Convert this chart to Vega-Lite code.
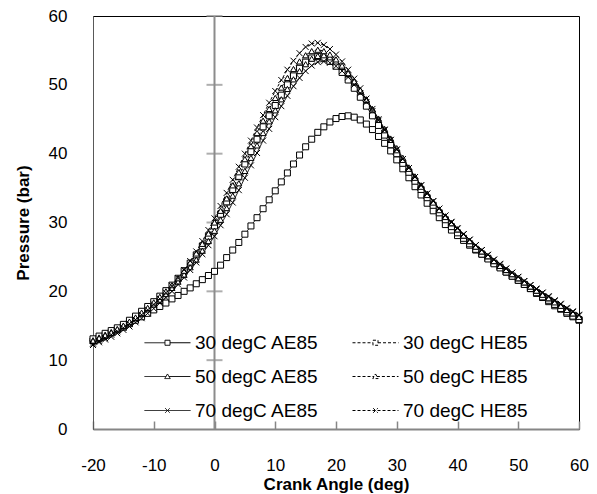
{
"$schema": "https://vega.github.io/schema/vega-lite/v6.json",
"width": 486, "height": 413,
"autosize": {"type": "none"},
"padding": {"left": 93, "top": 16, "right": 18, "bottom": 65},
"background": "white",
"config": {"view": {"stroke": "black", "strokeWidth": 1}, "font": "Liberation Sans"},
"data": {"values": [
{"s":"30 degC AE85","a":-20,"p":12.8},{"s":"30 degC AE85","a":-19,"p":13.2},{"s":"30 degC AE85","a":-18,"p":13.6},{"s":"30 degC AE85","a":-17,"p":14.0},{"s":"30 degC AE85","a":-16,"p":14.4},{"s":"30 degC AE85","a":-15,"p":14.8},{"s":"30 degC AE85","a":-14,"p":15.3},{"s":"30 degC AE85","a":-13,"p":15.8},{"s":"30 degC AE85","a":-12,"p":16.3},{"s":"30 degC AE85","a":-11,"p":16.8},
{"s":"30 degC AE85","a":-10,"p":17.3},{"s":"30 degC AE85","a":-9,"p":17.8},{"s":"30 degC AE85","a":-8,"p":18.3},{"s":"30 degC AE85","a":-7,"p":18.9},{"s":"30 degC AE85","a":-6,"p":19.4},{"s":"30 degC AE85","a":-5,"p":20.0},{"s":"30 degC AE85","a":-4,"p":20.5},{"s":"30 degC AE85","a":-3,"p":21.1},{"s":"30 degC AE85","a":-2,"p":21.7},{"s":"30 degC AE85","a":-1,"p":22.3},
{"s":"30 degC AE85","a":0,"p":22.9},{"s":"30 degC AE85","a":1,"p":23.8},{"s":"30 degC AE85","a":2,"p":24.9},{"s":"30 degC AE85","a":3,"p":26.0},{"s":"30 degC AE85","a":4,"p":27.1},{"s":"30 degC AE85","a":5,"p":28.3},{"s":"30 degC AE85","a":6,"p":29.5},{"s":"30 degC AE85","a":7,"p":30.7},{"s":"30 degC AE85","a":8,"p":32.0},{"s":"30 degC AE85","a":9,"p":33.3},
{"s":"30 degC AE85","a":10,"p":34.6},{"s":"30 degC AE85","a":11,"p":35.9},{"s":"30 degC AE85","a":12,"p":37.2},{"s":"30 degC AE85","a":13,"p":38.5},{"s":"30 degC AE85","a":14,"p":39.8},{"s":"30 degC AE85","a":15,"p":41.0},{"s":"30 degC AE85","a":16,"p":42.1},{"s":"30 degC AE85","a":17,"p":43.1},{"s":"30 degC AE85","a":18,"p":43.9},{"s":"30 degC AE85","a":19,"p":44.6},
{"s":"30 degC AE85","a":20,"p":45.1},{"s":"30 degC AE85","a":21,"p":45.4},{"s":"30 degC AE85","a":22,"p":45.5},{"s":"30 degC AE85","a":23,"p":45.3},{"s":"30 degC AE85","a":24,"p":44.9},{"s":"30 degC AE85","a":25,"p":44.3},{"s":"30 degC AE85","a":26,"p":43.5},{"s":"30 degC AE85","a":27,"p":42.5},{"s":"30 degC AE85","a":28,"p":41.5},{"s":"30 degC AE85","a":29,"p":40.4},
{"s":"30 degC AE85","a":30,"p":39.1},{"s":"30 degC AE85","a":31,"p":37.8},{"s":"30 degC AE85","a":32,"p":36.5},{"s":"30 degC AE85","a":33,"p":35.2},{"s":"30 degC AE85","a":34,"p":34.0},{"s":"30 degC AE85","a":35,"p":32.8},{"s":"30 degC AE85","a":36,"p":31.7},{"s":"30 degC AE85","a":37,"p":30.7},{"s":"30 degC AE85","a":38,"p":29.7},{"s":"30 degC AE85","a":39,"p":28.9},
{"s":"30 degC AE85","a":40,"p":28.1},{"s":"30 degC AE85","a":41,"p":27.4},{"s":"30 degC AE85","a":42,"p":26.7},{"s":"30 degC AE85","a":43,"p":26.0},{"s":"30 degC AE85","a":44,"p":25.4},{"s":"30 degC AE85","a":45,"p":24.8},{"s":"30 degC AE85","a":46,"p":24.1},{"s":"30 degC AE85","a":47,"p":23.5},{"s":"30 degC AE85","a":48,"p":22.8},{"s":"30 degC AE85","a":49,"p":22.2},
{"s":"30 degC AE85","a":50,"p":21.6},{"s":"30 degC AE85","a":51,"p":21.0},{"s":"30 degC AE85","a":52,"p":20.4},{"s":"30 degC AE85","a":53,"p":19.7},{"s":"30 degC AE85","a":54,"p":19.1},{"s":"30 degC AE85","a":55,"p":18.5},{"s":"30 degC AE85","a":56,"p":17.9},{"s":"30 degC AE85","a":57,"p":17.4},{"s":"30 degC AE85","a":58,"p":16.8},{"s":"30 degC AE85","a":59,"p":16.3},{"s":"30 degC AE85","a":60,"p":15.8},

{"s":"30 degC HE85","a":-20,"p":13.1},{"s":"30 degC HE85","a":-19,"p":13.5},{"s":"30 degC HE85","a":-18,"p":13.9},{"s":"30 degC HE85","a":-17,"p":14.3},{"s":"30 degC HE85","a":-16,"p":14.7},{"s":"30 degC HE85","a":-15,"p":15.2},{"s":"30 degC HE85","a":-14,"p":15.8},{"s":"30 degC HE85","a":-13,"p":16.4},{"s":"30 degC HE85","a":-12,"p":17.1},{"s":"30 degC HE85","a":-11,"p":17.8},
{"s":"30 degC HE85","a":-10,"p":18.5},{"s":"30 degC HE85","a":-9,"p":19.3},{"s":"30 degC HE85","a":-8,"p":20.1},{"s":"30 degC HE85","a":-7,"p":20.9},{"s":"30 degC HE85","a":-6,"p":21.9},{"s":"30 degC HE85","a":-5,"p":23.0},{"s":"30 degC HE85","a":-4,"p":24.1},{"s":"30 degC HE85","a":-3,"p":25.3},{"s":"30 degC HE85","a":-2,"p":26.6},{"s":"30 degC HE85","a":-1,"p":28.0},
{"s":"30 degC HE85","a":0,"p":29.5},{"s":"30 degC HE85","a":1,"p":31.2},{"s":"30 degC HE85","a":2,"p":33.0},{"s":"30 degC HE85","a":3,"p":34.8},{"s":"30 degC HE85","a":4,"p":36.7},{"s":"30 degC HE85","a":5,"p":38.5},{"s":"30 degC HE85","a":6,"p":40.3},{"s":"30 degC HE85","a":7,"p":42.1},{"s":"30 degC HE85","a":8,"p":43.9},{"s":"30 degC HE85","a":9,"p":45.5},
{"s":"30 degC HE85","a":10,"p":47.0},{"s":"30 degC HE85","a":11,"p":48.5},{"s":"30 degC HE85","a":12,"p":50.0},{"s":"30 degC HE85","a":13,"p":51.3},{"s":"30 degC HE85","a":14,"p":52.4},{"s":"30 degC HE85","a":15,"p":53.3},{"s":"30 degC HE85","a":16,"p":53.9},{"s":"30 degC HE85","a":17,"p":54.1},{"s":"30 degC HE85","a":18,"p":53.9},{"s":"30 degC HE85","a":19,"p":53.4},
{"s":"30 degC HE85","a":20,"p":52.7},{"s":"30 degC HE85","a":21,"p":51.8},{"s":"30 degC HE85","a":22,"p":50.7},{"s":"30 degC HE85","a":23,"p":49.5},{"s":"30 degC HE85","a":24,"p":48.2},{"s":"30 degC HE85","a":25,"p":46.9},{"s":"30 degC HE85","a":26,"p":45.5},{"s":"30 degC HE85","a":27,"p":44.1},{"s":"30 degC HE85","a":28,"p":42.7},{"s":"30 degC HE85","a":29,"p":41.3},
{"s":"30 degC HE85","a":30,"p":40.0},{"s":"30 degC HE85","a":31,"p":38.6},{"s":"30 degC HE85","a":32,"p":37.3},{"s":"30 degC HE85","a":33,"p":36.0},{"s":"30 degC HE85","a":34,"p":34.8},{"s":"30 degC HE85","a":35,"p":33.6},{"s":"30 degC HE85","a":36,"p":32.5},{"s":"30 degC HE85","a":37,"p":31.4},{"s":"30 degC HE85","a":38,"p":30.4},{"s":"30 degC HE85","a":39,"p":29.4},
{"s":"30 degC HE85","a":40,"p":28.5},{"s":"30 degC HE85","a":41,"p":27.7},{"s":"30 degC HE85","a":42,"p":26.9},{"s":"30 degC HE85","a":43,"p":26.1},{"s":"30 degC HE85","a":44,"p":25.4},{"s":"30 degC HE85","a":45,"p":24.7},{"s":"30 degC HE85","a":46,"p":24.0},{"s":"30 degC HE85","a":47,"p":23.4},{"s":"30 degC HE85","a":48,"p":22.8},{"s":"30 degC HE85","a":49,"p":22.2},
{"s":"30 degC HE85","a":50,"p":21.6},{"s":"30 degC HE85","a":51,"p":21.0},{"s":"30 degC HE85","a":52,"p":20.4},{"s":"30 degC HE85","a":53,"p":19.8},{"s":"30 degC HE85","a":54,"p":19.2},{"s":"30 degC HE85","a":55,"p":18.7},{"s":"30 degC HE85","a":56,"p":18.1},{"s":"30 degC HE85","a":57,"p":17.5},{"s":"30 degC HE85","a":58,"p":17.0},{"s":"30 degC HE85","a":59,"p":16.4},{"s":"30 degC HE85","a":60,"p":15.9},

{"s":"50 degC AE85","a":-20,"p":12.9},{"s":"50 degC AE85","a":-19,"p":13.3},{"s":"50 degC AE85","a":-18,"p":13.7},{"s":"50 degC AE85","a":-17,"p":14.1},{"s":"50 degC AE85","a":-16,"p":14.5},{"s":"50 degC AE85","a":-15,"p":15.0},{"s":"50 degC AE85","a":-14,"p":15.5},{"s":"50 degC AE85","a":-13,"p":16.1},{"s":"50 degC AE85","a":-12,"p":16.7},{"s":"50 degC AE85","a":-11,"p":17.4},
{"s":"50 degC AE85","a":-10,"p":18.1},{"s":"50 degC AE85","a":-9,"p":18.8},{"s":"50 degC AE85","a":-8,"p":19.6},{"s":"50 degC AE85","a":-7,"p":20.5},{"s":"50 degC AE85","a":-6,"p":21.4},{"s":"50 degC AE85","a":-5,"p":22.4},{"s":"50 degC AE85","a":-4,"p":23.5},{"s":"50 degC AE85","a":-3,"p":24.6},{"s":"50 degC AE85","a":-2,"p":25.9},{"s":"50 degC AE85","a":-1,"p":27.3},
{"s":"50 degC AE85","a":0,"p":28.8},{"s":"50 degC AE85","a":1,"p":30.4},{"s":"50 degC AE85","a":2,"p":32.1},{"s":"50 degC AE85","a":3,"p":33.9},{"s":"50 degC AE85","a":4,"p":35.7},{"s":"50 degC AE85","a":5,"p":37.5},{"s":"50 degC AE85","a":6,"p":39.4},{"s":"50 degC AE85","a":7,"p":41.2},{"s":"50 degC AE85","a":8,"p":43.0},{"s":"50 degC AE85","a":9,"p":44.7},
{"s":"50 degC AE85","a":10,"p":46.3},{"s":"50 degC AE85","a":11,"p":47.9},{"s":"50 degC AE85","a":12,"p":49.4},{"s":"50 degC AE85","a":13,"p":50.8},{"s":"50 degC AE85","a":14,"p":52.0},{"s":"50 degC AE85","a":15,"p":53.0},{"s":"50 degC AE85","a":16,"p":53.8},{"s":"50 degC AE85","a":17,"p":54.2},{"s":"50 degC AE85","a":18,"p":54.3},{"s":"50 degC AE85","a":19,"p":54.0},
{"s":"50 degC AE85","a":20,"p":53.4},{"s":"50 degC AE85","a":21,"p":52.6},{"s":"50 degC AE85","a":22,"p":51.6},{"s":"50 degC AE85","a":23,"p":50.5},{"s":"50 degC AE85","a":24,"p":49.2},{"s":"50 degC AE85","a":25,"p":47.9},{"s":"50 degC AE85","a":26,"p":46.5},{"s":"50 degC AE85","a":27,"p":45.1},{"s":"50 degC AE85","a":28,"p":43.6},{"s":"50 degC AE85","a":29,"p":42.2},
{"s":"50 degC AE85","a":30,"p":40.8},{"s":"50 degC AE85","a":31,"p":39.4},{"s":"50 degC AE85","a":32,"p":38.0},{"s":"50 degC AE85","a":33,"p":36.7},{"s":"50 degC AE85","a":34,"p":35.4},{"s":"50 degC AE85","a":35,"p":34.2},{"s":"50 degC AE85","a":36,"p":33.0},{"s":"50 degC AE85","a":37,"p":31.9},{"s":"50 degC AE85","a":38,"p":30.9},{"s":"50 degC AE85","a":39,"p":29.9},
{"s":"50 degC AE85","a":40,"p":29.0},{"s":"50 degC AE85","a":41,"p":28.1},{"s":"50 degC AE85","a":42,"p":27.3},{"s":"50 degC AE85","a":43,"p":26.5},{"s":"50 degC AE85","a":44,"p":25.8},{"s":"50 degC AE85","a":45,"p":25.1},{"s":"50 degC AE85","a":46,"p":24.4},{"s":"50 degC AE85","a":47,"p":23.7},{"s":"50 degC AE85","a":48,"p":23.1},{"s":"50 degC AE85","a":49,"p":22.5},
{"s":"50 degC AE85","a":50,"p":21.9},{"s":"50 degC AE85","a":51,"p":21.3},{"s":"50 degC AE85","a":52,"p":20.7},{"s":"50 degC AE85","a":53,"p":20.1},{"s":"50 degC AE85","a":54,"p":19.6},{"s":"50 degC AE85","a":55,"p":19.0},{"s":"50 degC AE85","a":56,"p":18.5},{"s":"50 degC AE85","a":57,"p":17.9},{"s":"50 degC AE85","a":58,"p":17.4},{"s":"50 degC AE85","a":59,"p":16.8},{"s":"50 degC AE85","a":60,"p":16.3},

{"s":"50 degC HE85","a":-20,"p":12.8},{"s":"50 degC HE85","a":-19,"p":13.2},{"s":"50 degC HE85","a":-18,"p":13.6},{"s":"50 degC HE85","a":-17,"p":14.0},{"s":"50 degC HE85","a":-16,"p":14.5},{"s":"50 degC HE85","a":-15,"p":15.0},{"s":"50 degC HE85","a":-14,"p":15.6},{"s":"50 degC HE85","a":-13,"p":16.2},{"s":"50 degC HE85","a":-12,"p":16.9},{"s":"50 degC HE85","a":-11,"p":17.6},
{"s":"50 degC HE85","a":-10,"p":18.4},{"s":"50 degC HE85","a":-9,"p":19.2},{"s":"50 degC HE85","a":-8,"p":20.0},{"s":"50 degC HE85","a":-7,"p":20.9},{"s":"50 degC HE85","a":-6,"p":21.9},{"s":"50 degC HE85","a":-5,"p":23.0},{"s":"50 degC HE85","a":-4,"p":24.2},{"s":"50 degC HE85","a":-3,"p":25.5},{"s":"50 degC HE85","a":-2,"p":26.9},{"s":"50 degC HE85","a":-1,"p":28.4},
{"s":"50 degC HE85","a":0,"p":30.0},{"s":"50 degC HE85","a":1,"p":31.7},{"s":"50 degC HE85","a":2,"p":33.5},{"s":"50 degC HE85","a":3,"p":35.4},{"s":"50 degC HE85","a":4,"p":37.3},{"s":"50 degC HE85","a":5,"p":39.2},{"s":"50 degC HE85","a":6,"p":41.1},{"s":"50 degC HE85","a":7,"p":43.0},{"s":"50 degC HE85","a":8,"p":44.8},{"s":"50 degC HE85","a":9,"p":46.5},
{"s":"50 degC HE85","a":10,"p":48.1},{"s":"50 degC HE85","a":11,"p":49.6},{"s":"50 degC HE85","a":12,"p":51.0},{"s":"50 degC HE85","a":13,"p":52.3},{"s":"50 degC HE85","a":14,"p":53.4},{"s":"50 degC HE85","a":15,"p":54.3},{"s":"50 degC HE85","a":16,"p":54.9},{"s":"50 degC HE85","a":17,"p":55.1},{"s":"50 degC HE85","a":18,"p":54.9},{"s":"50 degC HE85","a":19,"p":54.4},
{"s":"50 degC HE85","a":20,"p":53.7},{"s":"50 degC HE85","a":21,"p":52.8},{"s":"50 degC HE85","a":22,"p":51.7},{"s":"50 degC HE85","a":23,"p":50.5},{"s":"50 degC HE85","a":24,"p":49.2},{"s":"50 degC HE85","a":25,"p":47.8},{"s":"50 degC HE85","a":26,"p":46.4},{"s":"50 degC HE85","a":27,"p":44.9},{"s":"50 degC HE85","a":28,"p":43.4},{"s":"50 degC HE85","a":29,"p":42.0},
{"s":"50 degC HE85","a":30,"p":40.5},{"s":"50 degC HE85","a":31,"p":39.1},{"s":"50 degC HE85","a":32,"p":37.8},{"s":"50 degC HE85","a":33,"p":36.5},{"s":"50 degC HE85","a":34,"p":35.2},{"s":"50 degC HE85","a":35,"p":34.0},{"s":"50 degC HE85","a":36,"p":32.9},{"s":"50 degC HE85","a":37,"p":31.8},{"s":"50 degC HE85","a":38,"p":30.8},{"s":"50 degC HE85","a":39,"p":29.9},
{"s":"50 degC HE85","a":40,"p":29.0},{"s":"50 degC HE85","a":41,"p":28.1},{"s":"50 degC HE85","a":42,"p":27.3},{"s":"50 degC HE85","a":43,"p":26.5},{"s":"50 degC HE85","a":44,"p":25.8},{"s":"50 degC HE85","a":45,"p":25.1},{"s":"50 degC HE85","a":46,"p":24.4},{"s":"50 degC HE85","a":47,"p":23.7},{"s":"50 degC HE85","a":48,"p":23.1},{"s":"50 degC HE85","a":49,"p":22.5},
{"s":"50 degC HE85","a":50,"p":21.9},{"s":"50 degC HE85","a":51,"p":21.3},{"s":"50 degC HE85","a":52,"p":20.7},{"s":"50 degC HE85","a":53,"p":20.1},{"s":"50 degC HE85","a":54,"p":19.5},{"s":"50 degC HE85","a":55,"p":19.0},{"s":"50 degC HE85","a":56,"p":18.4},{"s":"50 degC HE85","a":57,"p":17.9},{"s":"50 degC HE85","a":58,"p":17.3},{"s":"50 degC HE85","a":59,"p":16.8},{"s":"50 degC HE85","a":60,"p":16.3},

{"s":"70 degC AE85","a":-20,"p":12.2},{"s":"70 degC AE85","a":-19,"p":12.6},{"s":"70 degC AE85","a":-18,"p":13.0},{"s":"70 degC AE85","a":-17,"p":13.4},{"s":"70 degC AE85","a":-16,"p":13.9},{"s":"70 degC AE85","a":-15,"p":14.4},{"s":"70 degC AE85","a":-14,"p":14.9},{"s":"70 degC AE85","a":-13,"p":15.5},{"s":"70 degC AE85","a":-12,"p":16.1},{"s":"70 degC AE85","a":-11,"p":16.8},
{"s":"70 degC AE85","a":-10,"p":17.5},{"s":"70 degC AE85","a":-9,"p":18.3},{"s":"70 degC AE85","a":-8,"p":19.1},{"s":"70 degC AE85","a":-7,"p":20.0},{"s":"70 degC AE85","a":-6,"p":21.0},{"s":"70 degC AE85","a":-5,"p":22.0},{"s":"70 degC AE85","a":-4,"p":23.1},{"s":"70 degC AE85","a":-3,"p":24.2},{"s":"70 degC AE85","a":-2,"p":25.4},{"s":"70 degC AE85","a":-1,"p":26.7},
{"s":"70 degC AE85","a":0,"p":28.0},{"s":"70 degC AE85","a":1,"p":29.6},{"s":"70 degC AE85","a":2,"p":31.2},{"s":"70 degC AE85","a":3,"p":32.9},{"s":"70 degC AE85","a":4,"p":34.7},{"s":"70 degC AE85","a":5,"p":36.5},{"s":"70 degC AE85","a":6,"p":38.3},{"s":"70 degC AE85","a":7,"p":40.1},{"s":"70 degC AE85","a":8,"p":41.9},{"s":"70 degC AE85","a":9,"p":43.6},
{"s":"70 degC AE85","a":10,"p":45.3},{"s":"70 degC AE85","a":11,"p":46.9},{"s":"70 degC AE85","a":12,"p":48.4},{"s":"70 degC AE85","a":13,"p":49.8},{"s":"70 degC AE85","a":14,"p":51.0},{"s":"70 degC AE85","a":15,"p":52.0},{"s":"70 degC AE85","a":16,"p":52.8},{"s":"70 degC AE85","a":17,"p":53.3},{"s":"70 degC AE85","a":18,"p":53.4},{"s":"70 degC AE85","a":19,"p":53.2},
{"s":"70 degC AE85","a":20,"p":52.7},{"s":"70 degC AE85","a":21,"p":52.0},{"s":"70 degC AE85","a":22,"p":51.1},{"s":"70 degC AE85","a":23,"p":50.0},{"s":"70 degC AE85","a":24,"p":48.8},{"s":"70 degC AE85","a":25,"p":47.5},{"s":"70 degC AE85","a":26,"p":46.2},{"s":"70 degC AE85","a":27,"p":44.8},{"s":"70 degC AE85","a":28,"p":43.4},{"s":"70 degC AE85","a":29,"p":42.0},
{"s":"70 degC AE85","a":30,"p":40.6},{"s":"70 degC AE85","a":31,"p":39.2},{"s":"70 degC AE85","a":32,"p":37.9},{"s":"70 degC AE85","a":33,"p":36.6},{"s":"70 degC AE85","a":34,"p":35.4},{"s":"70 degC AE85","a":35,"p":34.2},{"s":"70 degC AE85","a":36,"p":33.1},{"s":"70 degC AE85","a":37,"p":32.0},{"s":"70 degC AE85","a":38,"p":31.0},{"s":"70 degC AE85","a":39,"p":30.0},
{"s":"70 degC AE85","a":40,"p":29.1},{"s":"70 degC AE85","a":41,"p":28.3},{"s":"70 degC AE85","a":42,"p":27.5},{"s":"70 degC AE85","a":43,"p":26.7},{"s":"70 degC AE85","a":44,"p":26.0},{"s":"70 degC AE85","a":45,"p":25.3},{"s":"70 degC AE85","a":46,"p":24.6},{"s":"70 degC AE85","a":47,"p":24.0},{"s":"70 degC AE85","a":48,"p":23.3},{"s":"70 degC AE85","a":49,"p":22.7},
{"s":"70 degC AE85","a":50,"p":22.1},{"s":"70 degC AE85","a":51,"p":21.5},{"s":"70 degC AE85","a":52,"p":20.9},{"s":"70 degC AE85","a":53,"p":20.4},{"s":"70 degC AE85","a":54,"p":19.8},{"s":"70 degC AE85","a":55,"p":19.3},{"s":"70 degC AE85","a":56,"p":18.7},{"s":"70 degC AE85","a":57,"p":18.2},{"s":"70 degC AE85","a":58,"p":17.6},{"s":"70 degC AE85","a":59,"p":17.1},{"s":"70 degC AE85","a":60,"p":16.6},

{"s":"70 degC HE85","a":-20,"p":12.4},{"s":"70 degC HE85","a":-19,"p":12.8},{"s":"70 degC HE85","a":-18,"p":13.2},{"s":"70 degC HE85","a":-17,"p":13.7},{"s":"70 degC HE85","a":-16,"p":14.2},{"s":"70 degC HE85","a":-15,"p":14.7},{"s":"70 degC HE85","a":-14,"p":15.3},{"s":"70 degC HE85","a":-13,"p":15.9},{"s":"70 degC HE85","a":-12,"p":16.6},{"s":"70 degC HE85","a":-11,"p":17.3},
{"s":"70 degC HE85","a":-10,"p":18.1},{"s":"70 degC HE85","a":-9,"p":18.9},{"s":"70 degC HE85","a":-8,"p":19.8},{"s":"70 degC HE85","a":-7,"p":20.8},{"s":"70 degC HE85","a":-6,"p":21.9},{"s":"70 degC HE85","a":-5,"p":23.1},{"s":"70 degC HE85","a":-4,"p":24.4},{"s":"70 degC HE85","a":-3,"p":25.8},{"s":"70 degC HE85","a":-2,"p":27.3},{"s":"70 degC HE85","a":-1,"p":28.9},
{"s":"70 degC HE85","a":0,"p":30.6},{"s":"70 degC HE85","a":1,"p":32.4},{"s":"70 degC HE85","a":2,"p":34.3},{"s":"70 degC HE85","a":3,"p":36.2},{"s":"70 degC HE85","a":4,"p":38.1},{"s":"70 degC HE85","a":5,"p":40.0},{"s":"70 degC HE85","a":6,"p":41.9},{"s":"70 degC HE85","a":7,"p":43.8},{"s":"70 degC HE85","a":8,"p":45.6},{"s":"70 degC HE85","a":9,"p":47.4},
{"s":"70 degC HE85","a":10,"p":49.1},{"s":"70 degC HE85","a":11,"p":50.7},{"s":"70 degC HE85","a":12,"p":52.2},{"s":"70 degC HE85","a":13,"p":53.5},{"s":"70 degC HE85","a":14,"p":54.6},{"s":"70 degC HE85","a":15,"p":55.5},{"s":"70 degC HE85","a":16,"p":56.0},{"s":"70 degC HE85","a":17,"p":56.1},{"s":"70 degC HE85","a":18,"p":55.8},{"s":"70 degC HE85","a":19,"p":55.2},
{"s":"70 degC HE85","a":20,"p":54.4},{"s":"70 degC HE85","a":21,"p":53.4},{"s":"70 degC HE85","a":22,"p":52.2},{"s":"70 degC HE85","a":23,"p":50.9},{"s":"70 degC HE85","a":24,"p":49.5},{"s":"70 degC HE85","a":25,"p":48.0},{"s":"70 degC HE85","a":26,"p":46.5},{"s":"70 degC HE85","a":27,"p":45.0},{"s":"70 degC HE85","a":28,"p":43.5},{"s":"70 degC HE85","a":29,"p":42.0},
{"s":"70 degC HE85","a":30,"p":40.6},{"s":"70 degC HE85","a":31,"p":39.2},{"s":"70 degC HE85","a":32,"p":37.9},{"s":"70 degC HE85","a":33,"p":36.6},{"s":"70 degC HE85","a":34,"p":35.4},{"s":"70 degC HE85","a":35,"p":34.2},{"s":"70 degC HE85","a":36,"p":33.1},{"s":"70 degC HE85","a":37,"p":32.0},{"s":"70 degC HE85","a":38,"p":31.0},{"s":"70 degC HE85","a":39,"p":30.1},
{"s":"70 degC HE85","a":40,"p":29.2},{"s":"70 degC HE85","a":41,"p":28.3},{"s":"70 degC HE85","a":42,"p":27.5},{"s":"70 degC HE85","a":43,"p":26.7},{"s":"70 degC HE85","a":44,"p":26.0},{"s":"70 degC HE85","a":45,"p":25.3},{"s":"70 degC HE85","a":46,"p":24.6},{"s":"70 degC HE85","a":47,"p":23.9},{"s":"70 degC HE85","a":48,"p":23.3},{"s":"70 degC HE85","a":49,"p":22.7},
{"s":"70 degC HE85","a":50,"p":22.1},{"s":"70 degC HE85","a":51,"p":21.5},{"s":"70 degC HE85","a":52,"p":20.9},{"s":"70 degC HE85","a":53,"p":20.3},{"s":"70 degC HE85","a":54,"p":19.8},{"s":"70 degC HE85","a":55,"p":19.2},{"s":"70 degC HE85","a":56,"p":18.6},{"s":"70 degC HE85","a":57,"p":18.1},{"s":"70 degC HE85","a":58,"p":17.5},{"s":"70 degC HE85","a":59,"p":17.0},{"s":"70 degC HE85","a":60,"p":16.5}
]},
"layer": [
{"data": {"values": [{}]}, "mark": {"type": "rule", "color": "#8c8c8c", "strokeWidth": 2}, "encoding": {"x": {"datum": 0, "type": "quantitative"}}},
{"data": {"values": [{"v":10},{"v":20},{"v":30},{"v":40},{"v":50},{"v":60}]}, "mark": {"type": "tick", "orient": "horizontal", "size": 16, "thickness": 2, "color": "#8c8c8c"}, "encoding": {"x": {"datum": 0, "type": "quantitative"}, "y": {"field": "v", "type": "quantitative"}}},
{"mark": {"type": "line", "color": "black", "strokeWidth": 1},
 "encoding": {
  "x": {"field": "a", "type": "quantitative", "scale": {"domain": [-20, 60], "nice": false, "padding": 0},
        "axis": {"title": "Crank Angle (deg)", "values": [-20,-10,0,10,20,30,40,50,60], "labelExpr": "'' + datum.value", "labelFlush": false, "grid": false, "domainColor": "#868686", "domainWidth": 2, "tickColor": "#868686", "tickWidth": 1.5, "tickSize": -8, "labelPadding": 36, "labelFontSize": 17, "labelColor": "black", "labelFont": "Liberation Sans", "titleFont": "Liberation Sans", "titleFontSize": 17, "titleFontWeight": "bold", "titleColor": "black", "titlePadding": 3}},
  "y": {"field": "p", "type": "quantitative", "scale": {"domain": [0, 60], "nice": false, "padding": 0},
        "axis": {"title": "Pressure (bar)", "values": [0,10,20,30,40,50,60], "labelFlush": false, "grid": false, "ticks": false, "domainColor": "#595959", "domainWidth": 1, "labelPadding": 26, "labelFontSize": 17, "labelColor": "black", "labelFont": "Liberation Sans", "titleFont": "Liberation Sans", "titleFontSize": 17, "titleFontWeight": "bold", "titleColor": "black", "titlePadding": 16}},
  "detail": {"field": "s"},
  "strokeDash": {"field": "s", "type": "nominal",
     "scale": {"domain": ["30 degC AE85","50 degC AE85","70 degC AE85","30 degC HE85","50 degC HE85","70 degC HE85"], "range": [[1,0],[1,0],[1,0],[3,2],[3,2],[3,2]]},
     "legend": {"orient": "none", "legendX": 51, "legendY": 303, "columns": 2, "title": null, "symbolSize": 2116, "labelFontSize": 19, "labelColor": "black", "labelFont": "Liberation Sans", "labelOffset": 4, "columnPadding": 31, "rowPadding": -4, "padding": 0,
       "encoding": {"symbols": {"shape": {"value": {"expr": "indexof(datum.value,'30')==0 ? 'M-1,0L-0.11,0M0.11,0L1,0M-0.11,-0.11L0.11,-0.11L0.11,0.11L-0.11,0.11Z' : indexof(datum.value,'50')==0 ? 'M-1,0L-0.06,0M0.06,0L1,0M0,-0.11L0.12,0.09L-0.12,0.09Z' : 'M-1,0L1,0M-0.1,-0.1L0.1,0.1M-0.1,0.1L0.1,-0.1'"}}, "fill": {"value": "white"}, "stroke": {"value": "black"}, "strokeWidth": {"value": 1}, "opacity": {"value": 1}}}}}
 }},
{"mark": {"type": "point", "fill": "white", "stroke": "black", "strokeWidth": 1, "size": 36, "opacity": 1},
 "encoding": {
  "x": {"field": "a", "type": "quantitative"},
  "y": {"field": "p", "type": "quantitative"},
  "shape": {"field": "s", "type": "nominal",
     "scale": {"domain": ["30 degC AE85","30 degC HE85","50 degC AE85","50 degC HE85","70 degC AE85","70 degC HE85"], "range": ["square","square","triangle-up","triangle-up","M-1,-1L1,1M-1,1L1,-1","M-1,-1L1,1M-1,1L1,-1"]},
     "legend": null}
 }}
]
}
